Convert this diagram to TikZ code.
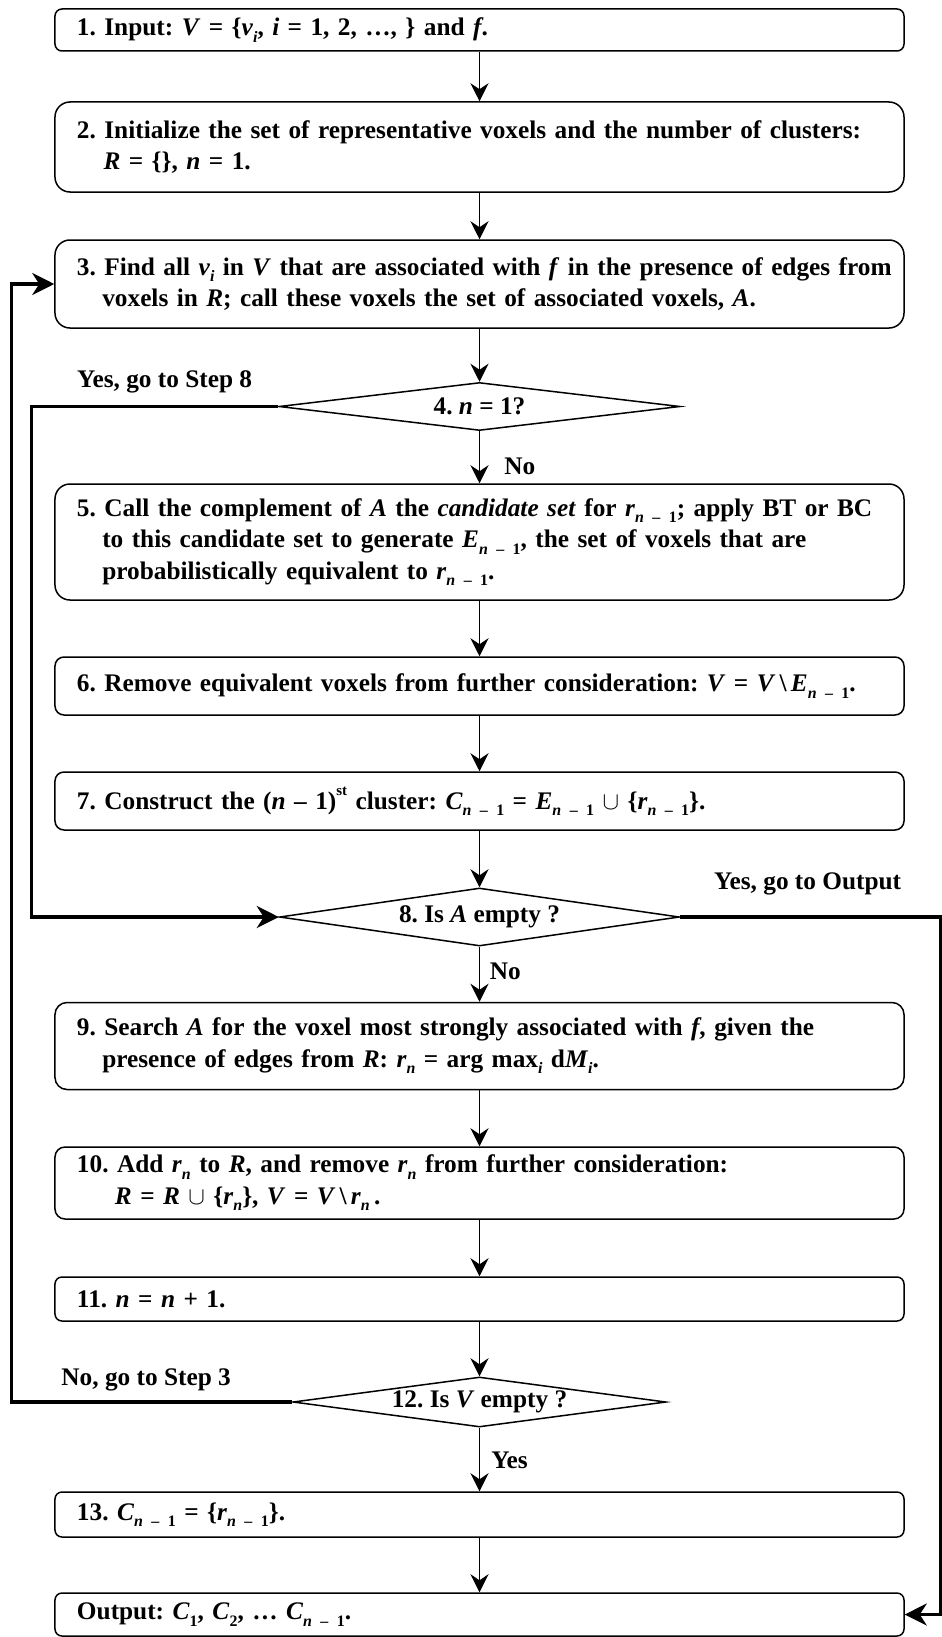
\documentclass[tikz,border=0pt]{standalone}
\usepackage{fontspec}
\setmainfont{Liberation Serif}
\usetikzlibrary{shapes.geometric,arrows.meta}

\newcommand*{\boxtextstyle}{\fontsize{25.4}{31.7}\selectfont\bfseries\frenchspacing}
\newcommand*{\lowix}[1]{\raisebox{-0.25em}{\fontsize{16}{16}\selectfont #1}}
\newcommand*{\highix}[1]{\raisebox{0.55em}{\fontsize{15}{15}\selectfont #1}}
\newcommand*{\nmo}{\textit{n} – 1}

\tikzset{
   stepbox/.style = {draw=black, line width=1.5bp, rounded corners=7bp,
      minimum width=849bp, text width=805bp, inner xsep=22bp, inner ysep=0pt,
      align=left, font=\boxtextstyle},
   testbox/.style = {draw=black, line width=1.5bp, diamond, aspect=8,
      inner sep=0pt, font=\boxtextstyle},
   flow/.style = {-{Stealth[length=18bp,width=18bp,inset=6bp]}, line width=1.5bp},
   loopline/.style = {-{Stealth[length=22bp,width=22bp,inset=7bp]}, line width=3.3bp},
   flowlabel/.style = {font=\boxtextstyle, inner sep=0pt}
}

\begin{document}
\begin{tikzpicture}[x=1bp, y=-1bp]
   \useasboundingbox (0,0) rectangle (941,1637);

   \node[stepbox, minimum height=42bp] (input) at (479.5,30)
      {1. Input: \textit{V} = \{\textit{v}\lowix{\textit{i}}, \textit{i} = 1, 2, …, \} and \textit{f}.};

   \node[stepbox, minimum height=90bp, rounded corners=15bp] (init) at (479.5,147)
      {\mbox{2. Initialize the set of representative voxels and the number of clusters:}\\
      \hspace*{1.05em}\textit{R} = \{\}, \textit{n} = 1.};

   \node[stepbox, minimum height=88bp, rounded corners=15bp] (find) at (479.5,284)
      {\mbox{3. Find all \textit{v}\lowix{\textit{i}} in \textit{V} that are associated with \textit{f} in the presence of edges from}\\
      \hspace*{1em}\mbox{voxels in \textit{R}; call these voxels the set of associated voxels, \textit{A}.}};

   \node[testbox, minimum width=401bp, minimum height=48bp] (first) at (479.5,406.5)
      {4. \textit{n} = 1?};

   \node[stepbox, minimum height=116bp, rounded corners=15bp] (cand) at (479.5,542)
      {\mbox{5. Call the complement of \textit{A} the \textit{candidate set} for \textit{r}\lowix{\nmo}; apply BT or BC}\\
      \hspace*{1em}\mbox{to this candidate set to generate \textit{E}\lowix{\nmo}, the set of voxels that are}\\
      \hspace*{1em}\mbox{probabilistically equivalent to \textit{r}\lowix{\nmo}.}};

   \node[stepbox, minimum height=58bp, rounded corners=9bp] (remove) at (479.5,686)
      {\mbox{6. Remove equivalent voxels from further consideration: \textit{V} = \textit{V}\,\textbackslash\,\textit{E}\lowix{\nmo}.}};

   \node[stepbox, minimum height=58bp, rounded corners=9bp] (cluster) at (479.5,801)
      {7. Construct the (\textit{n} – 1)\highix{st} cluster: \textit{C}\lowix{\nmo} = \textit{E}\lowix{\nmo} $\cup$ \{\textit{r}\lowix{\nmo}\}.};

   \node[testbox, minimum width=400bp, minimum height=58bp] (aempty) at (479.5,917)
      {8. Is \textit{A} empty ?};

   \node[stepbox, minimum height=87bp, rounded corners=12bp] (search) at (479.5,1046)
      {\mbox{9. Search \textit{A} for the voxel most strongly associated with \textit{f}, given the}\\
      \hspace*{1em}\mbox{presence of edges from \textit{R}: \textit{r}\lowix{\textit{n}} = arg max\lowix{\textit{i}} d\textit{M}\lowix{\textit{i}}.}};

   \node[stepbox, minimum height=72bp, rounded corners=10bp] (add) at (479.5,1183)
      {\mbox{10. Add \textit{r}\lowix{\textit{n}} to \textit{R}, and remove \textit{r}\lowix{\textit{n}} from further consideration:}\\
      \hspace*{1.5em}\textit{R} = \textit{R} $\cup$ \{\textit{r}\lowix{\textit{n}}\}, \textit{V} = \textit{V}\,\textbackslash\,\textit{r}\lowix{\textit{n}}\,.};

   \node[stepbox, minimum height=44bp] (incr) at (479.5,1299)
      {11. \textit{n} = \textit{n} + 1.};

   \node[testbox, minimum width=373bp, minimum height=50bp] (vempty) at (479.5,1402)
      {12. Is \textit{V} empty ?};

   \node[stepbox, minimum height=45bp] (last) at (479.5,1514.5)
      {13. \textit{C}\lowix{\nmo} = \{\textit{r}\lowix{\nmo}\}.};

   \node[stepbox, minimum height=43bp] (output) at (479.5,1614.5)
      {Output: \textit{C}\lowix{1}, \textit{C}\lowix{2}, … \textit{C}\lowix{\nmo}.};

   % main flow
   \draw[flow] (input) -- (init);
   \draw[flow] (init) -- (find);
   \draw[flow] (find) -- (first);
   \draw[flow] (first) -- node[flowlabel, right=24bp, pos=0.68] {No} (cand);
   \draw[flow] (cand) -- (remove);
   \draw[flow] (remove) -- (cluster);
   \draw[flow] (cluster) -- (aempty);
   \draw[flow] (aempty) -- node[flowlabel, right=9.5bp, pos=0.44] {No} (search);
   \draw[flow] (search) -- (add);
   \draw[flow] (add) -- (incr);
   \draw[flow] (incr) -- (vempty);
   \draw[flow] (vempty) -- node[flowlabel, right=11bp, pos=0.52] {Yes} (last);
   \draw[flow] (last) -- (output);

   % loops
   \draw[loopline] (first.west) -- node[flowlabel, above=12bp, pos=0.46] {Yes, go to Step 8}
      ++(-247,0) |- (aempty.west);
   \draw[loopline] (aempty.east) -- node[flowlabel, above=20bp, pos=0.49] {Yes, go to Output}
      ++(260,0) |- (output.east);
   \draw[loopline] (vempty.west) -- node[flowlabel, above=9bp, pos=0.52] {No, go to Step 3}
      ++(-281,0) |- (find.west);
\end{tikzpicture}
\end{document}
